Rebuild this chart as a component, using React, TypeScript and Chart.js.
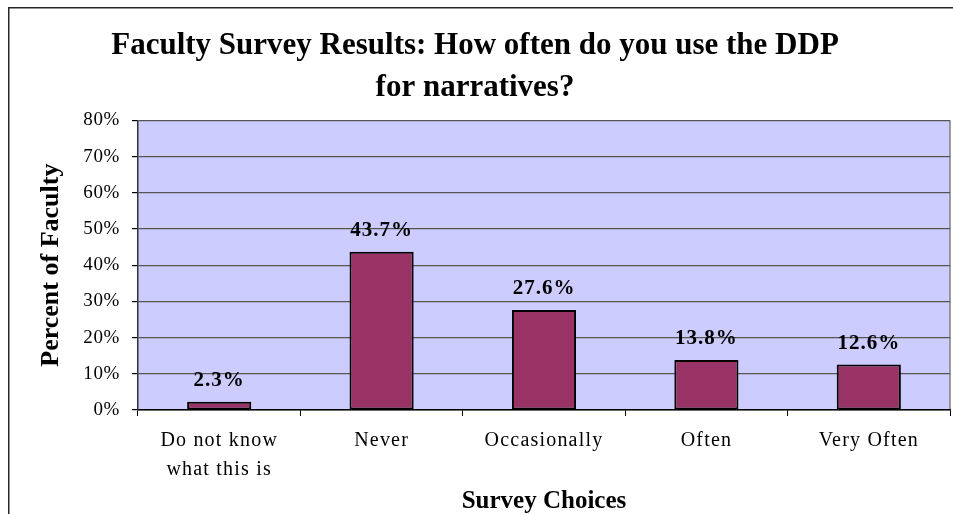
import React, { useEffect, useRef } from "react";
import { Chart, registerables } from "chart.js";

Chart.register(...registerables);

const categories: (string | string[])[] = [
  ["Do not know", "what this is"],
  "Never",
  "Occasionally",
  "Often",
  "Very Often",
];
const percentValues: number[] = [2.3, 43.7, 27.6, 13.8, 12.6];
const yTickMax = 80;
const yTickStep = 10;
const titleLines: string[] = [
  "Faculty Survey Results: How often do you use the DDP",
  "for narratives?",
];
const yAxisTitle = "Percent of Faculty";
const xAxisTitle = "Survey Choices";

const SERIF = "'Liberation Serif', 'Times New Roman', serif";

function withSpacing(scale: any, spacing: string) {
  if (scale.__spacingPatched) return;
  const proto = Object.getPrototypeOf(scale);
  const orig = proto.drawLabels;
  scale.drawLabels = function (area: any) {
    const ctx = this.ctx;
    ctx.save();
    (ctx as any).letterSpacing = spacing;
    orig.call(this, area);
    ctx.restore();
  };
  scale.__spacingPatched = true;
}

const framePlugin = {
  id: "framePlugin",
  beforeDraw(chart: any) {
    const { ctx, chartArea } = chart;
    ctx.save();
    ctx.fillStyle = "#ffffff";
    ctx.fillRect(0, 0, chart.width, chart.height);
    ctx.fillStyle = "#262626";
    ctx.fillRect(8, 7, 1.5, chart.height);
    ctx.fillRect(8, 7, chart.width, 1.5);
    ctx.fillStyle = "#CCCCFF";
    ctx.fillRect(chartArea.left, chartArea.top, chartArea.right - chartArea.left, chartArea.bottom - chartArea.top);
    ctx.strokeStyle = "#808080";
    ctx.lineWidth = 1.5;
    ctx.beginPath();
    ctx.moveTo(chartArea.right, chartArea.top);
    ctx.lineTo(chartArea.right, chartArea.bottom);
    ctx.stroke();
    ctx.restore();
  },
};

const valueLabelPlugin = {
  id: "valueLabelPlugin",
  afterDatasetsDraw(chart: any) {
    const { ctx } = chart;
    const meta = chart.getDatasetMeta(0);
    ctx.save();
    ctx.font = `bold 21px ${SERIF}`;
    (ctx as any).letterSpacing = "1px";
    ctx.fillStyle = "#000";
    ctx.textAlign = "center";
    ctx.textBaseline = "middle";
    meta.data.forEach((bar: any, i: number) => {
      ctx.fillText(`${percentValues[i].toFixed(1)}%`, bar.x, bar.y - 21);
    });
    ctx.restore();
  },
};

export default function App() {
  const ref = useRef<HTMLCanvasElement | null>(null);
  useEffect(() => {
    if (!ref.current) return;
    const chart = new Chart(ref.current, {
      type: "bar",
      data: {
        labels: categories,
        datasets: [
          {
            data: percentValues,
            backgroundColor: "#993366",
            borderColor: "#000000",
            borderWidth: 2,
            borderSkipped: false,
            barPercentage: 0.395,
            categoryPercentage: 1,
          },
        ],
      },
      options: {
        animation: false,
        responsive: false,
        devicePixelRatio: 1,
        layout: { padding: { left: 0, right: 3, top: 0, bottom: 0 } },
        plugins: {
          legend: { display: false },
          tooltip: { enabled: false },
          title: {
            display: true,
            text: titleLines,
            color: "#000",
            font: { family: SERIF, size: 31, weight: "bold", lineHeight: 1.36 },
            padding: { top: 25, bottom: 11 },
          },
        },
        scales: {
          x: {
            grid: {
              display: true,
              drawOnChartArea: false,
              drawTicks: true,
              tickLength: 6,
              tickColor: "#000",
              offset: true,
            },
            border: { display: true, color: "#000", width: 1.5 },
            ticks: {
              color: "#000",
              font: { family: SERIF, size: 20, lineHeight: 1.42 },
              padding: 11,
              maxRotation: 0,
              minRotation: 0,
              autoSkip: false,
            },
            title: {
              display: true,
              text: xAxisTitle,
              color: "#000",
              font: { family: SERIF, size: 25, weight: "bold", lineHeight: 1 },
              padding: { top: 0, bottom: 0 },
            },
            afterFit: (scale: any) => {
              scale.height = 104;
              withSpacing(scale, "1.2px");
            },
          },
          y: {
            min: 0,
            max: yTickMax,
            ticks: {
              stepSize: yTickStep,
              color: "#000",
              font: { family: SERIF, size: 19 },
              padding: 12,
              callback: (v: any) => `${v}%`,
            },
            grid: {
              color: "#555555",
              lineWidth: 1.2,
              tickLength: 6,
              tickColor: "#000",
            },
            border: { display: true, color: "#333", width: 1.5 },
            title: {
              display: true,
              text: yAxisTitle,
              color: "#000",
              font: { family: SERIF, size: 26, weight: "bold", lineHeight: 1.2 },
              padding: { top: 36, bottom: 0 },
            },
            afterFit: (scale: any) => {
              scale.width = 138;
              withSpacing(scale, "0.6px");
            },
          },
        },
      },
      plugins: [framePlugin, valueLabelPlugin],
    });
    return () => chart.destroy();
  }, []);
  return (
    <div style={{ position: "absolute", left: 0, top: 0, width: 953, height: 514, overflow: "hidden" }}>
      <canvas ref={ref} width={953} height={514} style={{ display: "block" }} />
    </div>
  );
}
